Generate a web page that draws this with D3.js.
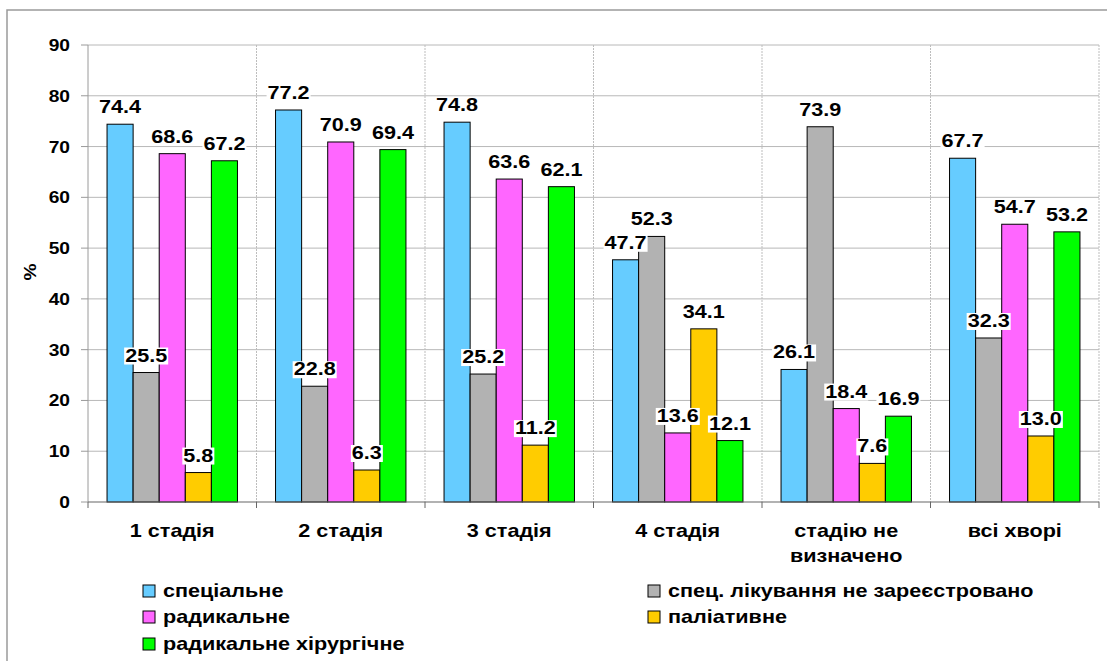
<!DOCTYPE html>
<html>
<head>
<meta charset="utf-8">
<script src="https://cdn.jsdelivr.net/npm/d3@7"></script>
<style>
  html, body { margin: 0; padding: 0; background: #fff; }
  svg { display: block; }
  text { font-family: "Liberation Sans", Arial, sans-serif; font-weight: bold; fill: #000; }
</style>
</head>
<body>
<svg id="chart" width="1107" height="661"></svg>
<script>
// Stage groups (two-line labels split on "\n")
const categories = ["1 стадія", "2 стадія", "3 стадія", "4 стадія", "стадію не\nвизначено", "всі хворі"];

// Share of patients (%) per treatment type
const series = ["спеціальне", "спец. лікування не зареєстровано", "радикальне", "паліативне", "радикальне хірургічне"];
const special      = [74.4, 77.2, 74.8, 47.7, 26.1, 67.7];
const notRecorded  = [25.5, 22.8, 25.2, 52.3, 73.9, 32.3];
const radical      = [68.6, 70.9, 63.6, 13.6, 18.4, 54.7];
const palliative   = [5.8, 6.3, 11.2, 34.1, 7.6, 13.0];
const radicalSurg  = [67.2, 69.4, 62.1, 12.1, 16.9, 53.2];
const seriesValues = [special, notRecorded, radical, palliative, radicalSurg];
const colors = ["#66ccff", "#b2b2b2", "#ff66ff", "#ffcc00", "#00ff00"];

const yTicks = [0, 10, 20, 30, 40, 50, 60, 70, 80, 90];

const svg = d3.select("#chart");
const plot = { left: 88, right: 1099, top: 45, bottom: 502 };
const SX = 1.2; // horizontal widening of the bold face

function label(g, x, y, str, size, anchor) {
  return g.append("text")
    .attr("transform", `translate(${x},${y}) scale(${SX},1)`)
    .attr("text-anchor", anchor || "middle")
    .style("font-size", size + "px")
    .text(str);
}

// Outer frame (top and left edges)
svg.append("path")
  .attr("d", "M7,661 V10 H1107")
  .attr("fill", "none").attr("stroke", "#9a9a9a").attr("stroke-width", 1.5);

const x0 = d3.scaleBand().domain(d3.range(categories.length))
  .range([plot.left, plot.right]).padding(0);
const bw = x0.bandwidth();
const x1 = d3.scaleBand().domain(d3.range(series.length))
  .range([bw * 0.113, bw * 0.887]).padding(0);
const y = d3.scaleLinear().domain([0, 90]).range([plot.bottom, plot.top]);

// Horizontal grid
svg.append("g").selectAll("line").data(yTicks.slice(1)).join("line")
  .attr("x1", plot.left).attr("x2", plot.right)
  .attr("y1", d => y(d)).attr("y2", d => y(d))
  .attr("stroke", "#b8b8b8").attr("stroke-width", 1);

// Vertical category separators
const seps = d3.range(1, categories.length + 1).map(i => plot.left + i * bw);
svg.append("g").selectAll("line").data(seps).join("line")
  .attr("x1", d => d).attr("x2", d => d)
  .attr("y1", plot.top).attr("y2", plot.bottom)
  .attr("stroke", "#bdbdbd").attr("stroke-width", 1)
  .attr("stroke-dasharray", "2,1");

// Bars
const groups = svg.append("g").selectAll("g").data(categories).join("g")
  .attr("transform", (d, i) => `translate(${x0(i)},0)`);
groups.each(function (c, ci) {
  const g = d3.select(this);
  seriesValues.forEach((vals, si) => {
    g.append("rect")
      .attr("x", x1(si)).attr("width", x1.bandwidth())
      .attr("y", y(vals[ci])).attr("height", y(0) - y(vals[ci]))
      .attr("fill", colors[si]).attr("stroke", "#000").attr("stroke-width", 1);
  });
});

// Axes
svg.append("line").attr("x1", plot.left).attr("x2", plot.left)
  .attr("y1", plot.top).attr("y2", plot.bottom).attr("stroke", "#9a9a9a");
svg.append("g").selectAll("line").data(yTicks).join("line")
  .attr("x1", plot.left - 7).attr("x2", plot.left)
  .attr("y1", d => y(d)).attr("y2", d => y(d)).attr("stroke", "#9a9a9a");
svg.append("line").attr("x1", plot.left).attr("x2", plot.right)
  .attr("y1", plot.bottom).attr("y2", plot.bottom).attr("stroke", "#666").attr("stroke-width", 1.2);
svg.append("g").selectAll("line").data([plot.left].concat(seps)).join("line")
  .attr("x1", d => d).attr("x2", d => d)
  .attr("y1", plot.bottom).attr("y2", plot.bottom + 6).attr("stroke", "#666");

const tickG = svg.append("g");
yTicks.forEach(t => label(tickG, 70, y(t) + 6, String(t), 16, "end"));

// Y-axis title
svg.append("text")
  .attr("transform", "translate(36,272) rotate(-90) scale(1.2,1)")
  .attr("text-anchor", "middle").style("font-size", "16px").text("%");

// Category labels
const catG = svg.append("g");
categories.forEach((c, i) => {
  const cx = x0(i) + bw / 2;
  c.split("\n").forEach((line, li) => label(catG, cx, 537 + li * 25, line, 18));
});

// Value labels with white backing
const valG = svg.append("g");
categories.forEach((c, ci) => {
  seriesValues.forEach((vals, si) => {
    const v = vals[ci];
    const cx = x0(ci) + x1(si) + x1.bandwidth() / 2;
    const by = y(v) - 11;
    const bg = valG.append("rect").attr("fill", "#fff");
    const t = label(valG, cx, by, v.toFixed(1), 18);
    const b = t.node().getBBox();
    const w = b.width * SX;
    bg.attr("x", cx - w / 2 - 1).attr("width", w + 2)
      .attr("y", by - 14).attr("height", 17);
  });
});

// Legend
const legendPos = [
  [143, 591], [648, 591],
  [143, 617], [648, 617],
  [143, 644]
];
const legG = svg.append("g");
series.forEach((s, i) => {
  const [lx, ly] = legendPos[i];
  legG.append("rect").attr("x", lx).attr("y", ly - 6).attr("width", 12).attr("height", 12)
    .attr("fill", colors[i]).attr("stroke", "#000").attr("stroke-width", 1);
  label(legG, lx + 20, ly + 6, s, 18, "start");
});
</script>
</body>
</html>
